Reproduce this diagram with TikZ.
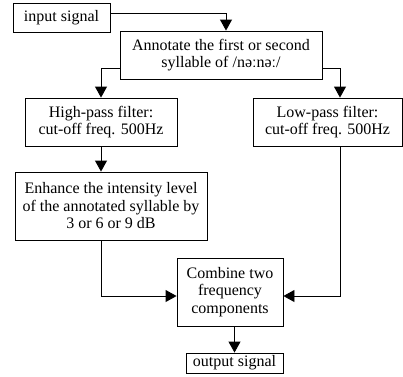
\documentclass[tikz,border=0pt]{standalone}
\usepackage{fontspec}
\setmainfont{Liberation Serif}
\usetikzlibrary{arrows.meta}

\begin{document}
\begin{tikzpicture}[x=1pt, y=-1pt, line width=0.9pt,
    >={Triangle[width=12pt,length=11pt]},
    stage/.style={draw, align=center, inner sep=0pt,
      font=\fontsize{16}{17.5}\selectfont}]

    % Rahmen
    \useasboundingbox (0,0) rectangle (403,376);

    % Bloecke
    \node[stage, minimum width=97pt, minimum height=29pt] (insig) at (61.5,17.5) {input signal};
    \node[stage, minimum width=202pt, minimum height=48pt] (annot) at (221,55)
        {Annotate the first or second\\ syllable of /nəːnəː/};
    \node[stage, minimum width=152pt, minimum height=48pt] (hp) at (101,122)
        {High-pass filter:\\ cut-off freq. 500Hz};
    \node[stage, minimum width=149pt, minimum height=48pt] (lp) at (327.5,122)
        {Low-pass filter:\\ cut-off freq. 500Hz};
    \node[stage, minimum width=192pt, minimum height=68pt] (enh) at (111,206)
        {Enhance the intensity level\\ of the annotated syllable by\\ 3 or 6 or 9 dB};
    \node[stage, minimum width=106pt, minimum height=68pt] (comb) at (230,292)
        {Combine two\\ frequency\\ components};
    \node[stage, minimum width=97pt, minimum height=20pt] (outsig) at (234.5,363) {output signal};

    % Verbindungen
    \draw[->] ([yshift=4.5pt]insig.east) -| ([xshift=5pt]annot.north);
    \draw[->] ([yshift=-13pt]annot.west) -| (hp.north);
    \draw[->] ([yshift=-13pt]annot.east) -| ([xshift=12.5pt]lp.north);
    \draw[->] (hp.south) -- (hp.south |- enh.north);
    \draw[->] (hp.south |- enh.south) |- ([yshift=-4pt]comb.west);
    \draw[->] ([xshift=12.5pt]lp.south) |- ([yshift=-4pt]comb.east);
    \draw[->] (comb.south -| outsig.north) -- (outsig.north);

\end{tikzpicture}
\end{document}
